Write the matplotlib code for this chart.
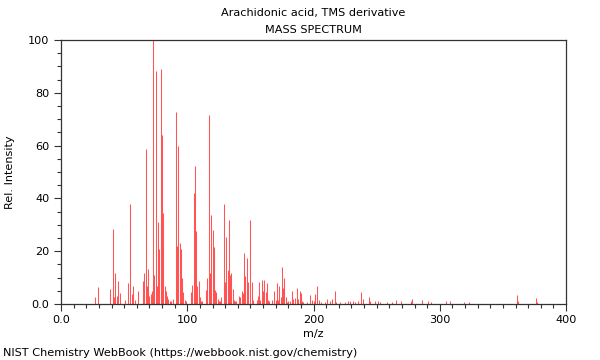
import matplotlib
matplotlib.use("Agg")
import matplotlib.pyplot as plt
from matplotlib.ticker import MultipleLocator, FuncFormatter

title = "Arachidonic acid, TMS derivative"
subtitle = "MASS SPECTRUM"
xlabel = "m/z"
ylabel = "Rel. Intensity"
footer = "NIST Chemistry WebBook (https://webbook.nist.gov/chemistry)"

mz = [27, 29, 39, 41, 42, 43, 44, 45, 47, 51, 53, 55, 56, 57, 59, 61,
      65, 66, 67, 68, 69, 70, 71, 72, 73, 74, 75, 76, 77, 78, 79, 80,
      81, 82, 83, 84, 85, 86, 87, 89, 91, 92, 93, 94, 95, 96, 97, 98,
      99, 103, 104, 105, 106, 107, 108, 109, 110, 111, 112, 115, 116, 117,
      118, 119, 120, 121, 122, 123, 124, 125, 126, 127, 129, 130, 131, 132,
      133, 134, 135, 136, 137, 138, 139, 141, 142, 143, 144, 145, 146, 147,
      148, 150, 151, 152, 155, 156, 157, 158, 159, 160, 161, 162, 163, 164,
      165, 167, 169, 170, 171, 172, 173, 174, 175, 176, 177, 178, 179, 180,
      181, 183, 184, 185, 187, 188, 189, 190, 191, 192, 195, 197, 199, 200,
      201, 203, 204, 206, 209, 211, 213, 215, 217, 218, 221, 225, 227, 229,
      231, 233, 235, 238, 239, 244, 245, 249, 251, 253, 258, 262, 265, 269,
      277, 278, 286, 291, 293, 305, 308, 319, 323, 361, 362, 376, 377]
intensity = [2.8, 6.6, 5.8, 28.3, 2.5, 11.9, 3.0, 8.8, 4.0, 1.5, 7.8, 37.9, 3.6, 6.8, 1.5, 5.0,
             8.8, 11.7, 58.8, 6.8, 13.4, 3.0, 3.8, 5.0, 100.0, 11.0, 88.4, 7.0, 31.0, 21.0, 89.0, 64.0,
             34.6, 7.0, 5.0, 3.0, 2.0, 1.2, 1.0, 2.0, 72.7, 22.0, 59.8, 23.0, 21.0, 9.7, 4.7, 1.5,
             1.0, 4.7, 7.2, 42.0, 52.3, 27.6, 6.8, 8.7, 2.5, 1.2, 1.0, 5.3, 9.7, 71.6,
             11.9, 33.7, 28.0, 21.5, 5.3, 4.7, 2.0, 1.0, 1.0, 2.5, 37.9, 8.5, 25.5, 12.9,
             31.8, 11.0, 11.6, 5.6, 1.5, 1.0, 1.0, 3.2, 2.5, 5.0, 4.0, 19.2, 10.6, 17.3,
             8.5, 31.8, 8.5, 1.5, 1.5, 3.2, 8.5, 1.5, 9.0, 5.0, 9.0, 4.5, 8.0, 1.5,
             1.0, 1.5, 5.0, 1.5, 7.8, 1.5, 6.8, 2.5, 13.9, 5.9, 9.8, 2.5, 0.8, 1.0,
             1.2, 5.0, 1.8, 2.3, 5.9, 1.8, 5.0, 4.2, 1.0, 0.8, 0.8, 3.4, 1.5, 1.0,
             3.8, 6.8, 1.5, 0.8, 0.8, 1.8, 1.0, 2.0, 5.0, 0.8, 0.8, 0.8, 1.0, 1.0,
             1.0, 0.8, 1.2, 4.7, 1.8, 2.5, 1.0, 1.0, 1.2, 0.8, 0.8, 0.8, 1.6, 1.0,
             1.0, 2.0, 1.5, 1.2, 0.8, 1.2, 1.0, 0.8, 0.8, 3.5, 1.0, 2.3, 0.8]

fig = plt.figure(figsize=(6, 3.6), dpi=100)
ax = fig.add_axes([61/600, 1-304/360, (566-61)/600, (304-40)/360])

ax.vlines(mz, 0, intensity, colors="#ff2a2a", linewidth=0.75, alpha=0.8)

ax.set_xlim(0, 400)
ax.set_ylim(0, 100)
ax.xaxis.set_major_locator(MultipleLocator(100))
ax.xaxis.set_minor_locator(MultipleLocator(10))
ax.yaxis.set_major_locator(MultipleLocator(20))
ax.yaxis.set_minor_locator(MultipleLocator(5))
fmt = FuncFormatter(lambda v, p: "0.0" if v == 0 else f"{int(round(v))}")
ax.xaxis.set_major_formatter(fmt)
ax.yaxis.set_major_formatter(fmt)
fs = 8.15
ax.tick_params(axis="both", which="major", direction="out", length=5, width=0.8,
               labelsize=fs, color="#333333")
ax.tick_params(axis="both", which="minor", direction="out", length=3, width=0.8,
               color="#333333")
ax.tick_params(axis="x", which="major", pad=3)
for s in ax.spines.values():
    s.set_color("#333333")
    s.set_linewidth(0.9)

fig.text(313.5/600, 1-13/360, title, ha="center", va="center", fontsize=fs)
fig.text(313.5/600, 1-30/360, subtitle, ha="center", va="center", fontsize=fs)
fig.text(313.5/600, 1-334/360, xlabel, ha="center", va="center", fontsize=fs)
fig.text(10/600, 1-172/360, ylabel, ha="center", va="center", rotation=90, fontsize=fs)
fig.text(3/600, 1-353/360, footer, ha="left", va="center", fontsize=fs)

fig.savefig("out.png", dpi=100)
